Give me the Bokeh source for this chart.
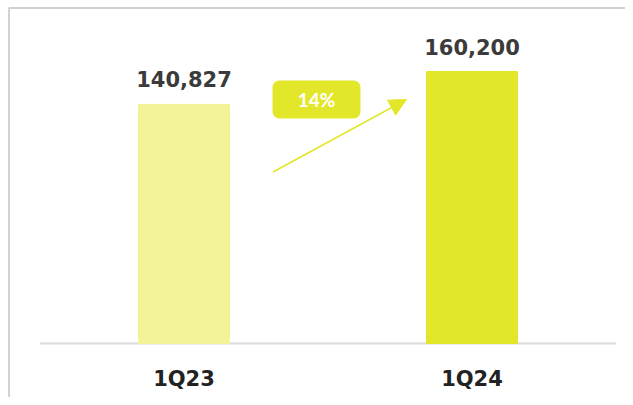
from bokeh.plotting import figure
from bokeh.models import Range1d, BoxAnnotation, Arrow, NormalHead, ColumnDataSource
from bokeh.core.properties import value
from bokeh.embed import file_html
from bokeh.resources import INLINE

# ---- data ----
categories = ["1Q23", "1Q24"]
values = [140827, 160200]
value_labels = ["140,827", "160,200"]
bar_colors = ["#f1f396", "#e3e72a"]
growth_label = "14%"

# ---- layout helpers ----
W, H = 625, 397
PX_PER_CAT = 288.0          # horizontal pixels between category centres
UNITS_PER_PX = 589.0        # data units per vertical pixel
first_center_px = 183.5
baseline_from_top = 343


def px_x(px):
    return (px - first_center_px) / PX_PER_CAT


def px_y(px_from_top):
    return (baseline_from_top - px_from_top) * UNITS_PER_PX


xs = list(range(len(categories)))
x_range = Range1d(px_x(0), px_x(W))
y_range = Range1d(px_y(H), px_y(0))

p = figure(width=W, height=H, x_range=x_range, y_range=y_range,
           output_backend="svg", toolbar_location=None, min_border=0)
p.xaxis.visible = False
p.yaxis.visible = False
p.grid.visible = False
p.outline_line_color = None
p.background_fill_color = "white"
p.border_fill_color = "white"

src = ColumnDataSource(dict(x=xs, top=values, color=bar_colors, label=value_labels, cat=categories))

# frame borders (top and left)
p.segment(x0=[px_x(8)], x1=[px_x(W)], y0=[px_y(7.5)], y1=[px_y(7.5)], line_color="#d2d2d2", line_width=2)
p.segment(x0=[px_x(8.5)], x1=[px_x(8.5)], y0=[px_y(7.5)], y1=[px_y(H)], line_color="#d2d2d2", line_width=2)

# baseline
p.segment(x0=[-0.5], x1=[len(categories) - 0.5], y0=[0], y1=[0], line_color="#dcdcdc", line_width=2)

# bars
p.vbar(x="x", top="top", width=91 / PX_PER_CAT, bottom=0, color="color", source=src)

# value labels
p.text(x="x", y="top", text="label", source=src, text_align="center", text_baseline="middle",
       y_offset=-25, text_font=value("DejaVu Sans"), text_font_style="bold", text_font_size="21px",
       text_color="#3b3b3b")

# category labels
p.text(x="x", y=0, text="cat", source=src, text_align="center", text_baseline="middle",
       y_offset=35, text_font=value("DejaVu Sans"), text_font_style="bold", text_font_size="21px",
       text_color="#222222")

# growth badge
bx = px_x(316)
by = px_y(99)
p.add_layout(BoxAnnotation(left=px_x(272), right=px_x(360), bottom=px_y(118), top=px_y(80),
                           fill_color="#e3e72a", fill_alpha=1.0, line_color=None, border_radius=7,
                           level="underlay"))
p.text(x=[bx], y=[by], text=[growth_label], text_align="center", text_baseline="middle",
       text_font=value("Lato"), text_font_style="bold", text_font_size="19px", text_color="white")

# arrow
p.add_layout(Arrow(x_start=px_x(272.5), y_start=px_y(171.5), x_end=px_x(406), y_end=px_y(99),
                   line_color="#e3e72a", line_width=1.5,
                   end=NormalHead(size=17, fill_color="#e3e72a", line_color="#e3e72a")))

open("out.html", "w").write(file_html(p, INLINE))
